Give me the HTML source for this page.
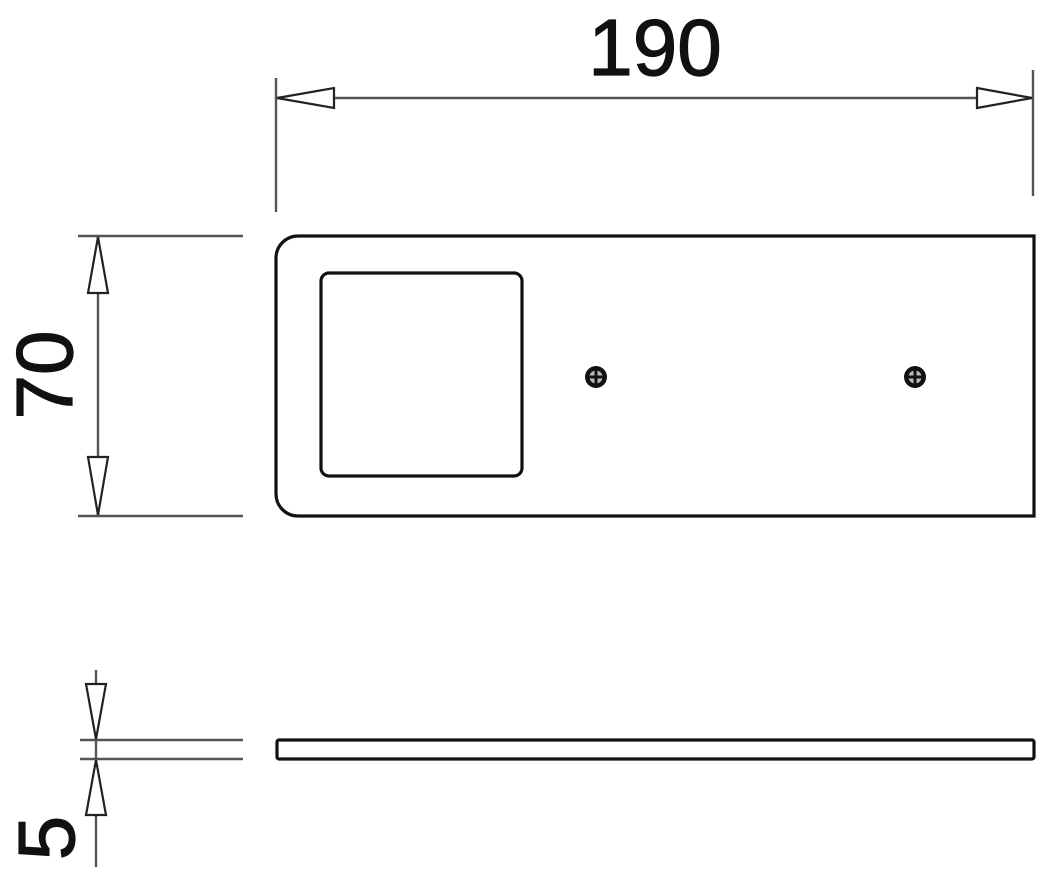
<!DOCTYPE html>
<html><head><meta charset="utf-8"><style>html,body{margin:0;padding:0;background:#fff}svg{display:block}</style></head>
<body>
<svg width="1048" height="880" viewBox="0 0 1048 880" xmlns="http://www.w3.org/2000/svg">
<g stroke="#555" stroke-width="2.4" fill="none">
<line x1="276" y1="78" x2="276" y2="212"/>
<line x1="1033" y1="70" x2="1033" y2="196"/>
<line x1="276" y1="98" x2="1033" y2="98"/>
<line x1="78" y1="236" x2="243" y2="236"/>
<line x1="78" y1="516" x2="243" y2="516"/>
<line x1="98" y1="236" x2="98" y2="516"/>
<line x1="80" y1="740" x2="243" y2="740"/>
<line x1="80" y1="759" x2="243" y2="759"/>
<line x1="96" y1="670" x2="96" y2="867"/>
</g>
<g stroke="#222" stroke-width="2.2" fill="#fff">
<polygon points="277,98 334,88 334,108"/>
<polygon points="1032,98 977,88 977,108"/>
<polygon points="98,237 88,293 108,293"/>
<polygon points="98,515 88,457 108,457"/>
<polygon points="96,739 86,684 106,684"/>
<polygon points="96,760 86,815 106,815"/>
</g>
<g stroke="#111" stroke-width="3.2" fill="none">
<path d="M298,236 H1034 V516 H298 A22,22 0 0 1 276,494 V258 A22,22 0 0 1 298,236 Z"/>
<rect x="321" y="273" width="201" height="203" rx="8"/>
<rect x="277" y="740" width="757" height="19" rx="2"/>
</g>
<g>
<circle cx="596" cy="377" r="11" fill="#111"/>
<circle cx="596" cy="377" r="6.5" fill="#bbb"/>
<path d="M596,370 V384 M589,377 H603" stroke="#111" stroke-width="3"/>
<circle cx="915" cy="377" r="11" fill="#111"/>
<circle cx="915" cy="377" r="6.5" fill="#bbb"/>
<path d="M915,370 V384 M908,377 H922" stroke="#111" stroke-width="3"/>
</g>
<g font-family="Liberation Sans, sans-serif" font-size="80" fill="#111" stroke="#111" stroke-width="1.2" text-anchor="middle">
<text x="655" y="75">190</text>
<text transform="translate(72,375) rotate(-90)">70</text>
<text transform="translate(74,838) rotate(-90)">5</text>
</g>
</svg>
</body></html>
